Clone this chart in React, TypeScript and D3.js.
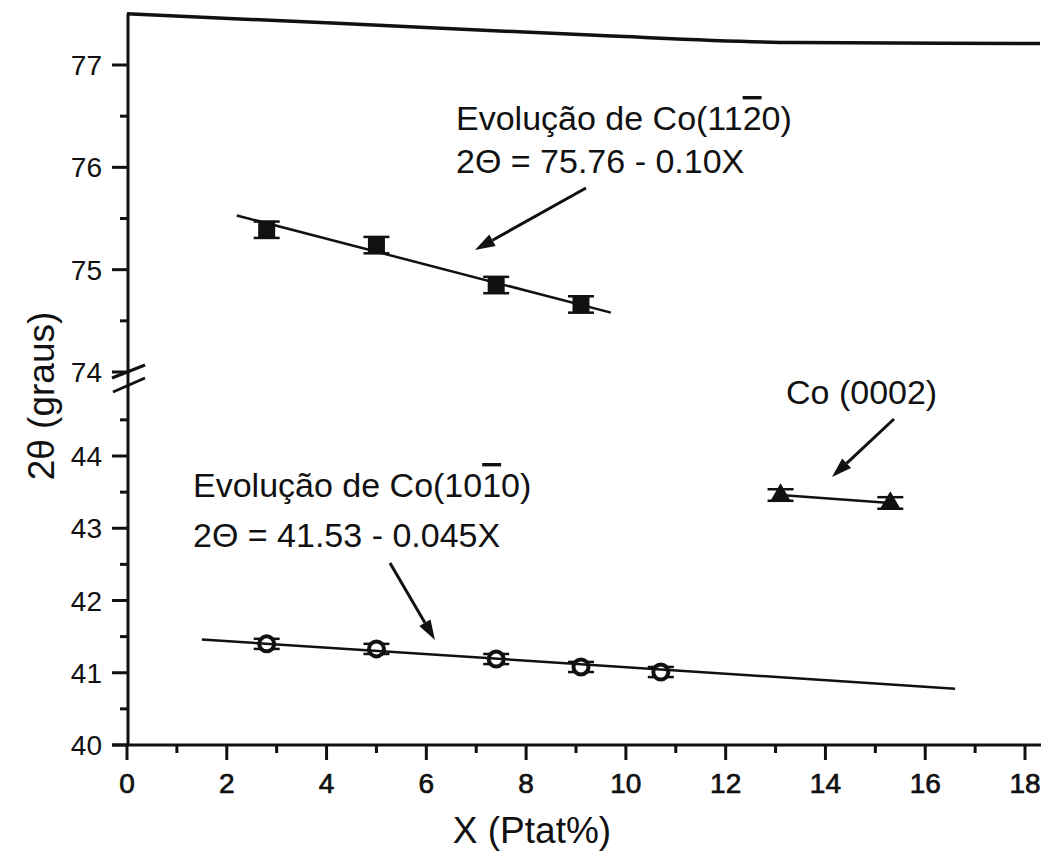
import React from 'react';
import * as d3 from 'd3';

// Co(10-10) peak, lower panel
const xTen = [2.8, 5.0, 7.4, 9.1, 10.7];
const thetaTen = [41.4, 41.33, 41.19, 41.08, 41.01];
const errTen = [0.07, 0.07, 0.07, 0.07, 0.07];

// Co(11-20) peak, upper panel
const xEleven = [2.8, 5.0, 7.4, 9.1];
const thetaEleven = [75.39, 75.24, 74.85, 74.66];
const errEleven = [0.08, 0.08, 0.08, 0.08];

// Co(0002) peak, lower panel
const xBasal = [13.1, 15.3];
const thetaBasal = [43.46, 43.35];
const errBasal = [0.08, 0.08];

// fitted lines (ends)
const fitTenX = [1.5, 16.6];
const fitTenY = [41.46, 40.78];
const fitElevenX = [2.2, 9.7];
const fitElevenY = [75.53, 74.58];

// the top frame of the scan is bent
const frameX = [0, 4.1, 9.4, 13.4, 18.3];
const frameY = [77.5, 77.41, 77.29, 77.22, 77.21];

const xTicks = [0, 2, 4, 6, 8, 10, 12, 14, 16, 18];
const xMinor = [1, 3, 5, 7, 9, 11, 13, 15, 17];
const upperTicks = [74, 75, 76, 77];
const upperMinor = [74.5, 75.5, 76.5];
const lowerTicks = [40, 41, 42, 43, 44];
const lowerMinor = [40.5, 41.5, 42.5, 43.5, 44.5];

const W = 1041;
const H = 855;
const x = d3.scaleLinear().domain([0, 18]).range([127, 1025]);
const yUp = d3.scaleLinear().domain([74, 77]).range([372, 65]);
const yLow = d3.scaleLinear().domain([40, 44]).range([745, 456]);

const font = '"Liberation Sans", Arial, Helvetica, sans-serif';
const ink = '#111';

function Arrow({ x1, y1, x2, y2 }: { x1: number; y1: number; x2: number; y2: number }) {
  const a = Math.atan2(y2 - y1, x2 - x1);
  const len = 20;
  const half = 6.5;
  const bx = x2 - len * Math.cos(a);
  const by = y2 - len * Math.sin(a);
  const pts = [
    [x2, y2],
    [bx + half * Math.sin(a), by - half * Math.cos(a)],
    [bx - half * Math.sin(a), by + half * Math.cos(a)]
  ];
  return (
    <g>
      <line x1={x1} y1={y1} x2={bx} y2={by} stroke={ink} strokeWidth={3} />
      <polygon points={pts.map(p => p.join(',')).join(' ')} fill={ink} />
    </g>
  );
}

function Caps({ cx, top, bottom }: { cx: number; top: number; bottom: number }) {
  return (
    <g stroke={ink} strokeWidth={2.5}>
      <line x1={cx} x2={cx} y1={top} y2={bottom} />
      <line x1={cx - 13} x2={cx + 13} y1={top} y2={top} />
      <line x1={cx - 13} x2={cx + 13} y1={bottom} y2={bottom} />
    </g>
  );
}

export default function App() {
  const frame = d3
    .line<number>()
    .x((_, i) => x(frameX[i]))
    .y(d => yUp(d))
    .curve(d3.curveMonotoneX)(frameY);
  const tri = d3.symbol(d3.symbolTriangle, 180)();
  const lineTen = d3.line<number>().x((_, i) => x(fitTenX[i])).y(d => yLow(d))(fitTenY);
  const lineEleven = d3.line<number>().x((_, i) => x(fitElevenX[i])).y(d => yUp(d))(fitElevenY);
  const lineBasal = d3.line<number>().x((_, i) => x(xBasal[i])).y(d => yLow(d))(thetaBasal);
  const axisX = x(0) + 1;

  return (
    <div style={{ position: 'absolute', left: 0, top: 0 }}>
      <svg width={W} height={H} style={{ display: 'block', background: '#fff' }} fontFamily={font}>
        <rect width={W} height={H} fill="#fff" />

        {/* frame and axes */}
        <path d={frame || ''} fill="none" stroke={ink} strokeWidth={3.5} />
        <line x1={axisX} x2={axisX} y1={yUp(77.5)} y2={yLow(40)} stroke={ink} strokeWidth={3} />
        <line x1={112} x2={W} y1={yLow(40)} y2={yLow(40)} stroke={ink} strokeWidth={3} />

        {/* axis break */}
        <g stroke={ink} strokeWidth={3}>
          <line x1={112} y1={yUp(74) + 6} x2={145} y2={yUp(74) - 7} />
          <line x1={113} y1={yUp(74) + 20} x2={145} y2={yUp(74) + 6} />
        </g>

        {/* ticks */}
        <g stroke={ink} strokeWidth={3}>
          {upperTicks.map(t => (
            <line key={'u' + t} x1={112} x2={axisX} y1={yUp(t)} y2={yUp(t)} />
          ))}
          {upperMinor.map(t => (
            <line key={'um' + t} x1={120} x2={axisX} y1={yUp(t)} y2={yUp(t)} />
          ))}
          {lowerTicks.map(t => (
            <line key={'l' + t} x1={112} x2={axisX} y1={yLow(t)} y2={yLow(t)} />
          ))}
          {lowerMinor.map(t => (
            <line key={'lm' + t} x1={120} x2={axisX} y1={yLow(t)} y2={yLow(t)} />
          ))}
          {xTicks.map(t => (
            <line key={'x' + t} x1={x(t)} x2={x(t)} y1={yLow(40)} y2={yLow(40) + 15} />
          ))}
          {xMinor.map(t => (
            <line key={'xm' + t} x1={x(t)} x2={x(t)} y1={yLow(40)} y2={yLow(40) + 8} />
          ))}
        </g>

        {/* tick labels */}
        <g fontSize={28} fill={ink} textAnchor="end">
          {upperTicks.map(t => (
            <text key={'ut' + t} x={102} y={yUp(t)} dy="0.36em">{t}</text>
          ))}
          {lowerTicks.map(t => (
            <text key={'lt' + t} x={102} y={yLow(t)} dy="0.36em">{t}</text>
          ))}
        </g>
        <g fontSize={28} fill={ink} stroke={ink} strokeWidth={0.7} textAnchor="middle">
          {xTicks.map(t => (
            <text key={'xt' + t} x={x(t)} y={793}>{t}</text>
          ))}
        </g>

        {/* axis titles */}
        <text x={532} y={843} fontSize={37} textAnchor="middle" fill={ink}>X (Ptat%)</text>
        <text transform="translate(54,396) rotate(-90)" fontSize={37} textAnchor="middle" fill={ink}>
          2θ (graus)
        </text>

        {/* Co(11-20) */}
        {xEleven.map((v, i) => (
          <g key={'e' + i}>
            <Caps cx={x(v)} top={yUp(thetaEleven[i] + errEleven[i])} bottom={yUp(thetaEleven[i] - errEleven[i])} />
            <rect x={x(v) - 8.5} y={yUp(thetaEleven[i]) - 9} width={17} height={18} fill={ink} />
          </g>
        ))}
        <path d={lineEleven || ''} stroke={ink} strokeWidth={2.5} fill="none" />

        {/* Co(10-10) */}
        {xTen.map((v, i) => (
          <g key={'t' + i}>
            <Caps cx={x(v)} top={yLow(thetaTen[i] + errTen[i])} bottom={yLow(thetaTen[i] - errTen[i])} />
            <circle cx={x(v)} cy={yLow(thetaTen[i])} r={7.5} fill="#fff" stroke={ink} strokeWidth={4} />
          </g>
        ))}
        <path d={lineTen || ''} stroke={ink} strokeWidth={2.5} fill="none" />

        {/* Co(0002) */}
        <path d={lineBasal || ''} stroke={ink} strokeWidth={2.5} fill="none" />
        {xBasal.map((v, i) => (
          <g key={'b' + i}>
            <Caps cx={x(v)} top={yLow(thetaBasal[i] + errBasal[i])} bottom={yLow(thetaBasal[i] - errBasal[i])} />
            <path d={tri || ''} transform={`translate(${x(v)},${yLow(thetaBasal[i])})`} fill={ink} />
          </g>
        ))}

        {/* annotations */}
        <g fontSize={34} fill={ink}>
          <text x={456} y={130}>
            Evolução de Co(11<tspan textDecoration="overline">2</tspan>0)
          </text>
          <text x={456} y={173}>2Θ = 75.76 - 0.10X</text>
          <text x={193} y={497}>
            Evolução de Co(10<tspan textDecoration="overline">1</tspan>0)
          </text>
          <text x={193} y={547}>2Θ = 41.53 - 0.045X</text>
          <text x={786} y={404}>Co (0002)</text>
        </g>
        <Arrow x1={586} y1={188} x2={475} y2={250} />
        <Arrow x1={390} y1={563} x2={435} y2={640} />
        <Arrow x1={894} y1={419} x2={832} y2={477} />
      </svg>
    </div>
  );
}
